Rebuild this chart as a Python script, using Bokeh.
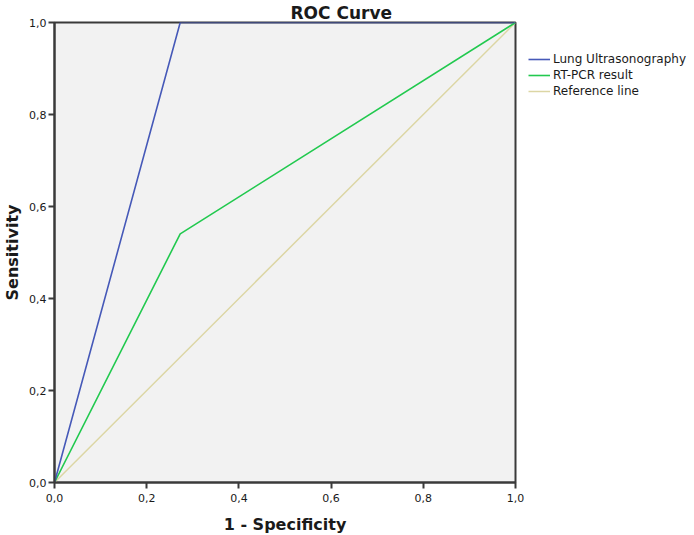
from bokeh.plotting import figure
from bokeh.models import Range1d, FixedTicker, CustomJSTickFormatter, Legend, LegendItem
from bokeh.embed import file_html
from bokeh.resources import INLINE

# Data
lus_fpr = [0.0, 0.2727, 1.0]
lus_tpr = [0.0, 1.0, 1.0]
pcr_fpr = [0.0, 0.2727, 1.0]
pcr_tpr = [0.0, 0.5405, 1.0]
ref_fpr = [0.0, 1.0]
ref_tpr = [0.0, 1.0]
ticks = [0.0, 0.2, 0.4, 0.6, 0.8, 1.0]

FONT = "DejaVu Sans"
DARK = "#3a3a3a"

p = figure(frame_width=461, frame_height=460, output_backend="svg", toolbar_location=None,
           x_range=Range1d(0, 1), y_range=Range1d(0, 1),
           min_border_left=53, min_border_right=0, min_border_top=17, min_border_bottom=37)
p.background_fill_color = "#f2f2f2"
p.border_fill_color = "white"
p.outline_line_color = DARK
p.outline_line_width = 2
p.xgrid.visible = False
p.ygrid.visible = False

p.title.text = "ROC Curve"
p.title.align = "left"
p.title.offset = 236
p.title.standoff = 0
p.title.text_font = FONT
p.title.text_font_size = "17px"
p.title.text_font_style = "bold"
p.title.text_color = "#1a1a1a"

fmt = CustomJSTickFormatter(code="return tick.toFixed(1).replace('.', ',');")
for ax in (p.xaxis[0], p.yaxis[0]):
    ax.ticker = FixedTicker(ticks=ticks)
    ax.formatter = fmt
    ax.minor_tick_line_color = None
    ax.major_tick_out = 6
    ax.major_tick_in = 0
    ax.major_tick_line_color = DARK
    ax.major_tick_line_width = 2
    ax.axis_line_color = DARK
    ax.axis_line_width = 2
    ax.major_label_text_font = FONT
    ax.major_label_text_font_size = "11px"
    ax.major_label_text_color = "#1a1a1a"
    ax.axis_label_text_font = FONT
    ax.axis_label_text_font_size = "16px"
    ax.axis_label_text_font_style = "bold"
    ax.axis_label_text_color = "#1a1a1a"

p.xaxis.axis_label = "1 - Specificity"
p.yaxis.axis_label = "Sensitivity"
p.xaxis.major_label_standoff = 5
p.yaxis.major_label_standoff = 2
p.xaxis.axis_label_standoff = 10
p.yaxis.axis_label_standoff = 4

r_ref = p.line(ref_fpr, ref_tpr, line_color="#dcd6a4", line_width=1.5)
r_pcr = p.line(pcr_fpr, pcr_tpr, line_color="#22c94f", line_width=1.6)
r_lus = p.line(lus_fpr, lus_tpr, line_color="#4659b8", line_width=1.6)

legend = Legend(items=[
    LegendItem(label="Lung Ultrasonography", renderers=[r_lus]),
    LegendItem(label="RT-PCR result", renderers=[r_pcr]),
    LegendItem(label="Reference line", renderers=[r_ref]),
], location=(13, 384))
legend.border_line_color = None
legend.background_fill_alpha = 0
legend.label_text_font = FONT
legend.label_text_font_size = "12px"
legend.label_text_color = "#1a1a1a"
legend.glyph_width = 22
legend.glyph_height = 14
legend.label_height = 14
legend.spacing = 2
legend.padding = 0
legend.margin = 0
legend.label_standoff = 3
p.add_layout(legend, "right")

open("out.html", "w").write(file_html(p, INLINE))
